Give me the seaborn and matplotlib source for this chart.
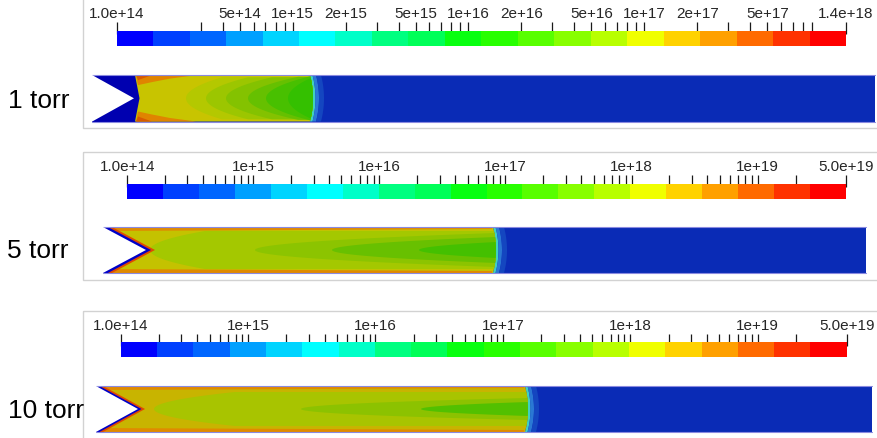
import numpy as np
import matplotlib
matplotlib.use("Agg")
import matplotlib.pyplot as plt
import seaborn as sns
from matplotlib.colors import ListedColormap
from matplotlib.ticker import FixedLocator, FixedFormatter, NullFormatter
from matplotlib.patches import Polygon, Rectangle

# ---------------- data ----------------
BAR_COLORS = ['#0000ff', '#0040ff', '#0066ff', '#00a0ff', '#00d4ff', '#00ffff',
              '#00ffc8', '#00ff80', '#00ff58', '#08ff10', '#28ff00', '#58ff00',
              '#88ff00', '#b8ff00', '#f0ff00', '#ffd200', '#ffa000', '#ff6a00',
              '#ff3200', '#ff0000']

P1_RANGE = [1.0e14, 1.4e18]
P1_TICKS = [1e14, 3e14, 4e14, 5e14, 6e14, 7e14, 8e14, 9e14,
            1e15, 2e15, 3e15, 4e15, 5e15, 6e15, 7e15, 8e15, 9e15,
            1e16, 2e16, 3e16, 4e16, 5e16, 6e16, 7e16, 8e16, 9e16,
            1e17, 2e17, 3e17, 4e17, 5e17, 6e17, 7e17, 8e17, 9e17, 1.4e18]
P1_LABELED = [1e14, 5e14, 1e15, 2e15, 5e15, 1e16, 2e16, 5e16, 1e17, 2e17, 5e17, 1.4e18]
P1_LABELS = ['1.0e+14', '5e+14', '1e+15', '2e+15', '5e+15', '1e+16', '2e+16',
             '5e+16', '1e+17', '2e+17', '5e+17', '1.4e+18']

P23_RANGE = [1.0e14, 5.0e19]
P23_TICKS = [1e14, 2e14, 3e14, 4e14, 5e14, 6e14, 7e14, 8e14, 9e14,
             1e15, 2e15, 3e15, 4e15, 5e15, 6e15, 7e15, 8e15, 9e15,
             1e16, 2e16, 3e16, 4e16, 5e16, 6e16, 7e16, 8e16, 9e16,
             1e17, 2e17, 3e17, 4e17, 5e17, 6e17, 7e17, 8e17, 9e17,
             1e18, 2e18, 3e18, 4e18, 5e18, 6e18, 7e18, 8e18, 9e18,
             1e19, 2e19, 5e19]
P23_LABELED = [1e14, 1e15, 1e16, 1e17, 1e18, 1e19, 5e19]
P23_LABELS = ['1.0e+14', '1e+15', '1e+16', '1e+17', '1e+18', '1e+19', '5.0e+19']

PANEL_NAMES = ['1 torr', '5 torr', '10 torr']

# field bands: colour, nose position on axis,
# half-width reached, and where along the tube that half-width is reached
P1_BAND_COLORS = ['#b4c800', '#9cc600', '#84c200', '#66c000', '#48c000', '#34c000']
P1_BAND_TIPS = [186, 206, 226, 248, 266, 288]
P1_BAND_HALFW = [21, 21, 21, 21.5, 22, 22.5]
P1_BAND_REACH = [222, 248, 272, 298, 310, 316]

P2_BAND_COLORS = ['#a4c800', '#8cc400', '#68c000', '#44c000']
P2_BAND_TIPS = [150, 255, 332, 419]
P2_BAND_HALFW = [19, 17, 13, 8]
P2_BAND_REACH = [205, 496, 496, 496]

P3_BAND_COLORS = ['#a8c400', '#8cc200', '#52c000']
P3_BAND_TIPS = [154, 301, 421]
P3_BAND_HALFW = [17, 11, 7]
P3_BAND_REACH = [235, 528, 528]
FRONTS = [313, 496, 528]

# ---------------- figure ----------------
sns.set_theme(style="white")
plt.rcParams['font.family'] = ['Liberation Sans', 'DejaVu Sans']

W, H = 877, 439
fig = plt.figure(figsize=(W / 100, H / 100), dpi=100)
bg = fig.add_axes([0, 0, 1, 1])
bg.set_xlim(0, W)
bg.set_ylim(H, 0)
bg.axis('off')

# panel frames
for (top, bot) in [(-2, 128.5), (153, 280.5), (312, 445)]:
    bg.add_patch(Rectangle((83, top), W, bot - top, facecolor='none',
                           edgecolor='#d2d2d2', lw=1.0, zorder=1))

# panel labels
for name, (x, yb) in zip(PANEL_NAMES, [(8, 108.5), (7, 258.3), (8, 418.3)]):
    bg.text(x, yb, name, fontsize=19, color='black', ha='left', va='baseline', zorder=10)


def colorbar(xl, xr, ytop_axes, ybar_top, ybot, rng, ticks, labeled, labels):
    ax = fig.add_axes([xl / W, 1 - ybot / H, (xr - xl) / W, (ybot - ytop_axes) / H])
    edges = np.logspace(np.log10(rng[0]), np.log10(rng[1]), len(BAR_COLORS) + 1)
    top_data = (ybot - ybar_top) / (ybot - ytop_axes)
    ax.pcolormesh(edges, [0, top_data], np.arange(len(BAR_COLORS))[None, :],
                  cmap=ListedColormap(sns.color_palette(BAR_COLORS)), clip_on=False,
                  shading='flat')
    ax.set_xscale('log')
    ax.set_xlim(rng[0], rng[1])
    ax.set_ylim(0, 1)
    ax.xaxis.set_major_locator(FixedLocator(labeled))
    ax.xaxis.set_major_formatter(FixedFormatter(labels))
    ax.xaxis.set_minor_locator(FixedLocator([t for t in ticks if t not in labeled]))
    ax.xaxis.set_minor_formatter(NullFormatter())
    ax.tick_params(axis='x', which='both', top=True, bottom=False, labeltop=True,
                   labelbottom=False, direction='out', length=8.4, width=0.9,
                   color='#1a1a1a', pad=1.5, labelsize=11, labelcolor='#262626')
    ax.set_yticks([])
    for s in ax.spines.values():
        s.set_visible(False)
    ax.patch.set_alpha(0)
    return ax


colorbar(116.7, 846.0, 35.0, 32.0, 47.0, P1_RANGE, P1_TICKS, P1_LABELED, P1_LABELS)
colorbar(127.3, 845.7, 187.5, 185.0, 200.0, P23_RANGE, P23_TICKS, P23_LABELED, P23_LABELS)
colorbar(120.7, 846.7, 346.5, 343.3, 358.3, P23_RANGE, P23_TICKS, P23_LABELED, P23_LABELS)

# ---------------- fields ----------------
POST_BLUE = '#0a2bb6'


def poly(pts, color, z):
    bg.add_patch(Polygon(pts, closed=True, facecolor=color, edgecolor='none', zorder=z))


def front_x(front, fc, y, h):
    return front - fc * (y / h) ** 2


def tube(x0, x1, yc, h, tip, front, fc, base, colors, tips, halfw, reach, notch_style):
    poly([(x0, yc - h), (x1, yc - h), (x1, yc + h), (x0, yc + h)], POST_BLUE, 2)
    ys = np.linspace(-h, h, 120)
    fx = front_x(front, fc, ys, h)
    if notch_style == 'navy':
        poly([(x0, yc - h), (140, yc - h), (140, yc + h), (x0, yc + h)], '#0000b0', 2.5)
        left = [(135, yc - h), (139.5, yc), (135, yc + h)]
    else:
        left = [(x0, yc - h), (tip, yc), (x0, yc + h)]
    gas = left + list(zip(fx[::-1], yc + ys[::-1]))
    poly(gas, base, 3)
    # fringe after the front
    for (o0, o1, col) in [(0, 2.5, '#40d0c0'), (2.5, 6, '#2a78d4'), (6, 11, '#1446c0')]:
        pts = list(zip(fx + o0, yc + ys)) + list(zip(fx[::-1] + o1, yc + ys[::-1]))
        poly(pts, col, 2.6)
    # edge strips
    if notch_style == 'navy':
        for s in (-1, 1):
            poly([(136, yc + s * h), (196, yc + s * h), (170, yc + s * (h - 3.5)),
                  (152, yc + s * (h - 7)), (138, yc + s * (h - 10))], '#e08400', 3.5)
            poly([(136, yc + s * h), (152, yc + s * h), (138, yc + s * (h - 5))], '#d85a00', 3.6)
    else:
        for s in (-1, 1):
            poly([(x0, yc + s * h), (front - 4, yc + s * h),
                  (front - 4, yc + s * (h - 2.0)), (x0, yc + s * (h - 4))], '#e08a00', 3.5)
    # bands (nose shaped, clipped by the front)
    for col, t, w, r in zip(colors, tips, halfw, reach):
        w = min(w, h)
        yy = np.linspace(-w, w, 120)
        ff = front_x(front, fc, yy, h)
        xl = np.minimum(t + (r - t) * (yy / w) ** 2, ff)
        pts = list(zip(xl, yc + yy)) + list(zip(ff[::-1], yc + yy[::-1]))
        poly(pts, col, 4)
    # notch
    if notch_style != 'navy':
        sr, sb = notch_style
        poly([(x0, yc - h), (x0 + sr, yc - h), (tip + sr, yc), (x0 + sr, yc + h), (x0, yc + h)],
             '#e04a00', 5)
        poly([(x0, yc - h), (x0 + sb, yc - h), (tip + sb, yc), (x0 + sb, yc + h), (x0, yc + h)],
             '#0000c8', 5.1)
    poly([(x0 - 1, yc - h - 0.5), (tip, yc), (x0 - 1, yc + h + 0.5)], 'white', 6)
    bg.plot([x0, x1], [yc - h, yc - h], color='#8a8ae0', lw=0.8, zorder=5.5)
    bg.plot([x0, x1], [yc + h, yc + h], color='#8a8ae0', lw=0.8, zorder=5.5)


tube(92.3, 875, 99.3, 23.2, 134, FRONTS[0], 3, '#c8c400',
     P1_BAND_COLORS, P1_BAND_TIPS, P1_BAND_HALFW, P1_BAND_REACH, 'navy')
tube(103, 866, 251, 23, 146, FRONTS[1], 3, '#c4c200',
     P2_BAND_COLORS, P2_BAND_TIPS, P2_BAND_HALFW, P2_BAND_REACH, (9, 5))
tube(96, 872, 410, 23, 138, FRONTS[2], 3, '#c8b400',
     P3_BAND_COLORS, P3_BAND_TIPS, P3_BAND_HALFW, P3_BAND_REACH, (7, 3.5))

fig.savefig('out.png', dpi=100)
